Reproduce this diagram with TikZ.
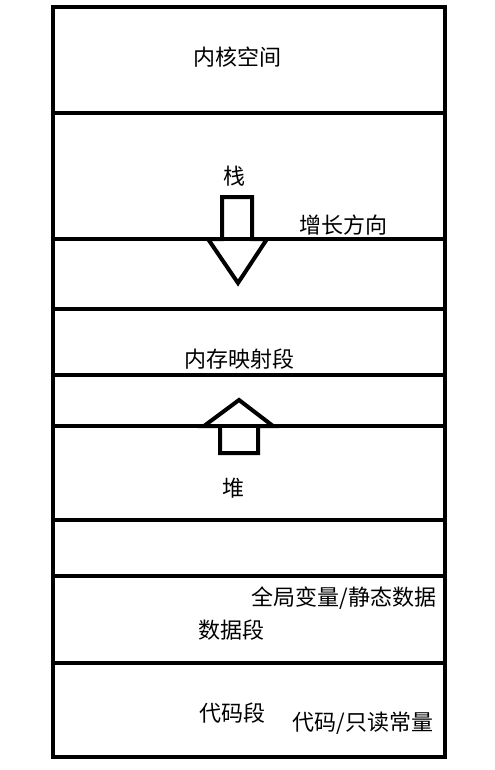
\documentclass[tikz,border=0pt]{standalone}
\usepackage{fontspec}
\setmainfont{Noto Sans CJK SC}
\usepackage{tikz}
\usepackage{xcolor}
\usetikzlibrary{calc}
\usetikzlibrary{positioning}

\tikzset{
  seg/.style={black,line width=3pt},
  growarrow/.style={black,line width=3pt,line join=miter},
  label/.style={black,font=\fontsize{16.5pt}{18pt}\selectfont,inner sep=0pt}
}

\begin{document}
\begin{tikzpicture}[x=0.75pt,y=-0.75pt]
\useasboundingbox[fill=white] (0,0) rectangle (495,770);
\foreach \t/\b in {7/113,113/239,239/309,309/375,375/426,426/520,520/576,576/663,663/757}
{
	\draw[seg] (53,\t) rectangle (445,\b);
}
% stack grows down
\draw[growarrow] (222,239) -- (222,197) -- (252,197) -- (252,239)
  -- (267,239) -- (238,283) -- (208,239) -- cycle;
% heap grows up
\draw[growarrow] (220,426) -- (220,453) -- (258,453) -- (258,426)
  -- (273,426) -- (239,400) -- (204,426) -- cycle;
\node[label] (kernel) at (237,57) {内核空间};
\node[label] (stack) at (234,176) {栈};
\node[label] (grow) at (343,225) {增长方向};
\node[label] (mmap) at (239,359) {内存映射段};
\node[label] (heap) at (233,488) {堆};
\node[label] (globals) at (344,598) {全局变量/静态数据};
\node[label] (data) at (231,630) {数据段};
\node[label] (code) at (232,713) {代码段};
\node[label] (rodata) at (363,723) {代码/只读常量};
\end{tikzpicture}
\end{document}
